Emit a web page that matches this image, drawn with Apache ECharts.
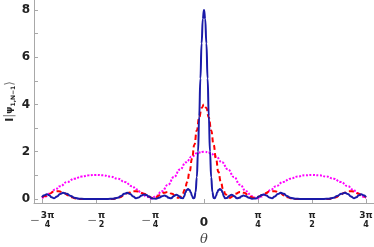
<!DOCTYPE html>
<html><head><meta charset="utf-8">
<script src="https://cdn.jsdelivr.net/npm/echarts@6/dist/echarts.min.js"></script>
<style>html,body{margin:0;padding:0;background:#fff}#c{width:374px;height:247px}</style>
</head><body><div id="c"></div>
<script>
// theta in degrees, intensity values
const blueTheta = [-135,-133,-131,-129,-127,-125,-122.5,-120,-117.5,-114.5,-111,-108,-104,-100,-90,-80,-76,-72,-69,-66.5,-64,-61.5,-59,-56.7,-54.5,-52,-50,-48,-46,-43,-40,-37.5,-35,-33,-31,-29.5,-27.5,-25,-23,-21,-19,-17.5,-16.5,-15.5,-14.5,-13.3,-12,-11,-10,-9,-8,-7,-6,-5,-4,-3,-2,-1,
  0,1,2,3,4,5,6,7,8,9,10,11,12,13.3,14.5,15.5,16.5,17.5,19,21,23,25,27.5,29.5,31,33,35,37.5,40,43,46,48,50,52,54.5,56.7,59,61.5,64,66.5,69,72,76,80,90,100,104,108,111,114.5,117.5,120,122.5,125,127,129,131,133,135];
const blueValues = [0.08,0.16,0.2,0.16,0.07,0.03,0.1,0.21,0.26,0.22,0.13,0.05,0.01,0,0,0,0.01,0.05,0.13,0.22,0.26,0.21,0.1,0.03,0.06,0.15,0.19,0.17,0.1,0.02,0.01,0.05,0.12,0.15,0.11,0.05,0.03,0.13,0.18,0.13,0.04,0.03,0.12,0.27,0.38,0.42,0.38,0.28,0.13,0.03,0.04,0.3,0.92,2.0,3.5,5.1,6.58,7.62,
  8.0,7.62,6.58,5.1,3.5,2.0,0.92,0.3,0.04,0.03,0.13,0.28,0.38,0.42,0.38,0.27,0.12,0.03,0.04,0.13,0.18,0.13,0.03,0.05,0.11,0.15,0.12,0.05,0.01,0.02,0.1,0.17,0.19,0.15,0.06,0.03,0.1,0.21,0.26,0.22,0.13,0.05,0.01,0,0,0,0.01,0.05,0.13,0.22,0.26,0.21,0.1,0.03,0.07,0.16,0.2,0.16,0.08];

const redTheta = [-135,-132,-129,-125,-121,-117,-113,-110,-107,-104,-90,-76,-73,-70,-67,-63,-59,-55,-50,-46,-43,-40,-37,-33.5,-30,-26.5,-23.5,-21.5,-20,-18,-16,-14,-12,-10,-8,-6,-4,-2,
  0,2,4,6,8,10,12,14,16,18,20,21.5,23.5,26.5,30,33.5,37,40,43,46,50,55,59,63,67,70,73,76,90,104,107,110,113,117,121,125,129,132,135];
const redValues = [0.07,0.13,0.22,0.32,0.33,0.26,0.15,0.07,0.02,0,0,0,0.02,0.07,0.15,0.26,0.33,0.32,0.22,0.1,0.04,0.07,0.16,0.26,0.3,0.22,0.1,0.05,0.08,0.2,0.4,0.72,1.15,1.7,2.3,2.9,3.45,3.85,
  4.0,3.85,3.45,2.9,2.3,1.7,1.15,0.72,0.4,0.2,0.08,0.05,0.1,0.22,0.3,0.26,0.16,0.07,0.04,0.1,0.22,0.32,0.33,0.26,0.15,0.07,0.02,0,0,0,0.02,0.07,0.15,0.26,0.33,0.32,0.22,0.13,0.07];

const magentaTheta = [-135,-132,-128,-124,-120,-114,-108,-102,-96,-90,-84,-78,-72,-66,-60,-56,-52,-48,-44,-40,-35,-30,-25,-20,-15,-10,-5,
  0,5,10,15,20,25,30,35,40,44,48,52,56,60,66,72,78,84,90,96,102,108,114,120,124,128,132,135];
const magentaValues = [0.03,0.1,0.25,0.4,0.54,0.72,0.86,0.95,1.0,1.02,1.0,0.95,0.86,0.72,0.54,0.4,0.25,0.1,0.02,0.12,0.33,0.6,0.93,1.25,1.55,1.8,1.96,
  2.0,1.96,1.8,1.55,1.25,0.93,0.6,0.33,0.12,0.02,0.1,0.25,0.4,0.54,0.72,0.86,0.95,1.0,1.02,1.0,0.95,0.86,0.72,0.54,0.4,0.25,0.1,0.03];

const xTicks = [-135,-90,-45,0,45,90,135];
const xTickLabels = {'-135':['−','3π','4'],'-90':['−','π','2'],'-45':['−','π','4'],'0':[null,'0',null],'45':['','π','4'],'90':['','π','2'],'135':['','3π','4']};
const yTicks = [0,2,4,6,8];
const yMinorTicks = [0,1,2,3,4,5,6,7,8];

function zip(a,b){return a.map((v,i)=>[v,b[i]]);}

const chart = echarts.init(document.getElementById('c'), null, {renderer:'canvas'});
const axisGray = '#a8a8a8';
chart.setOption({
  animation:false,
  backgroundColor:'#fff',
  grid:{left:34,right:0,top:0,bottom:44,containLabel:false,outerBoundsMode:'none'},
  xAxis:{
    type:'value', min:-141.7, max:141.7,
    name:'θ', nameLocation:'middle', nameGap:30, nameMoveOverlap:false,
    nameTextStyle:{fontFamily:'DejaVu Serif',fontStyle:'italic',fontSize:13,color:'#444'},
    axisLine:{show:true,onZero:false,lineStyle:{color:axisGray,width:1}},
    axisTick:{show:true,inside:true,length:4,customValues:xTicks,lineStyle:{color:axisGray}},
    splitLine:{show:false},
    axisLabel:{
      customValues:xTicks, margin:8, interval:0, hideOverlap:false,
      formatter:function(v){
        const t = xTickLabels[String(Math.round(v))];
        if(!t) return '';
        if(t[0]===null) return '{z|0}';
        return (t[0]?'{m|−}':'')+'{n|'+t[1]+'}\n'+(t[0]?'{sp|−}':'')+'{d|'+t[2]+'}';
      },
      rich:{
        z:{fontSize:12,fontWeight:'bold',color:'#222',fontFamily:'DejaVu Sans',padding:[6,0,0,0]},
        m:{fontSize:12,color:'#777',fontFamily:'DejaVu Sans',lineHeight:4,verticalAlign:'top',padding:[4,1,0,0]},
        sp:{fontSize:12,color:'rgba(0,0,0,0)',fontFamily:'DejaVu Sans',lineHeight:9,padding:[0,1,0,0]},
        n:{fontSize:9,fontWeight:'bold',color:'#222',fontFamily:'DejaVu Sans',verticalAlign:'top',lineHeight:9},
        d:{fontSize:8,fontWeight:'bold',color:'#222',fontFamily:'DejaVu Sans',lineHeight:9}
      }
    }
  },
  yAxis:{
    type:'value', min:-0.17, max:8.42,
    name:'{i|I}{b||}{p|ψ}{s|1,N−1}{b|⟩}', nameLocation:'middle', nameGap:18, nameRotate:90, nameMoveOverlap:false,
    nameTextStyle:{rich:{
      i:{fontSize:11,fontWeight:'bold',color:'#222',fontFamily:'DejaVu Sans'},
      b:{fontSize:12,color:'#777',fontFamily:'DejaVu Sans'},
      p:{fontSize:9,fontWeight:'bold',color:'#222',fontFamily:'DejaVu Sans'},
      s:{fontSize:6,fontWeight:'bold',color:'#222',fontFamily:'DejaVu Sans',verticalAlign:'bottom'}
    }},
    axisLine:{show:true,onZero:false,lineStyle:{color:axisGray,width:1}},
    axisTick:{show:true,inside:true,length:4,customValues:yMinorTicks,lineStyle:{color:axisGray}},
    splitLine:{show:false},
    axisLabel:{customValues:yTicks,margin:4,fontSize:12,fontWeight:'bold',color:'#222',fontFamily:'DejaVu Sans'}
  },
  series:[
    {type:'line',data:zip(magentaTheta,magentaValues),smooth:true,smoothMonotone:'x',showSymbol:false,
     lineStyle:{color:'#ff00ff',width:2,type:[2,1.5]}},
    {type:'line',data:zip(redTheta,redValues),smooth:true,smoothMonotone:'x',showSymbol:false,
     lineStyle:{color:'#ff0000',width:2,type:[5,3]}},
    {type:'line',data:zip(blueTheta,blueValues),smooth:true,smoothMonotone:'x',showSymbol:false,
     lineStyle:{color:'#1a1aa8',width:2}}
  ]
});
</script></body></html>
